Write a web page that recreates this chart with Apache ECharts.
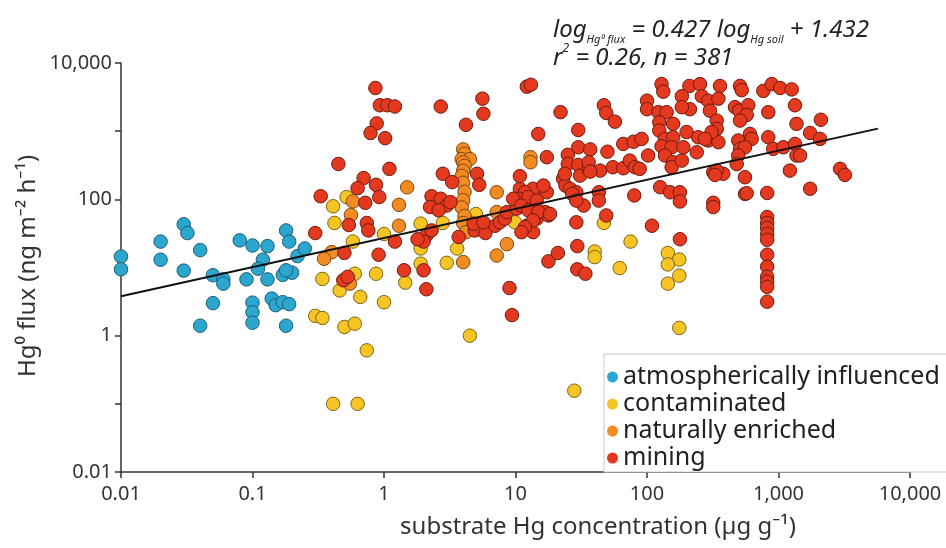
<!DOCTYPE html>
<html><head><meta charset="utf-8">
<script src="https://cdn.jsdelivr.net/npm/echarts@6/dist/echarts.min.js"></script>
<style>html,body{margin:0;padding:0;background:#fff}#c{width:946px;height:548px}</style>
</head><body><div id="c"></div>
<script>
const FONT = "'Noto Sans', 'Open Sans', sans-serif";
const seriesNames = ['atmospherically influenced', 'contaminated', 'naturally enriched', 'mining'];
const xTickLabels = ['0.01', '0.1', '1', '10', '100', '1,000', '10,000'];
const yTickLabels = ['0.01', '', '1', '', '100', '', '10,000'];
const trendX = [0.01, 5700];
const trendY = [3.78, 1090];

const atmospheric = [[0.01,14.5],[0.01,9.4],[0.02,24],[0.02,13],[0.03,43],[0.032,32],[0.04,18],[0.03,9],[0.05,7.7],[0.06,6.7],[0.06,5.8],[0.05,3.0],[0.04,1.4],[0.08,25],[0.1,21],[0.13,20.6],[0.12,13],[0.11,9.6],[0.09,6.7],[0.13,6.7],[0.1,3.05],[0.1,2.2],[0.1,1.55],[0.14,3.5],[0.15,2.8],[0.17,3.1],[0.19,2.9],[0.18,1.4],[0.18,35],[0.19,24],[0.17,7.8],[0.2,8.4],[0.22,14.7],[0.25,19],[0.18,9.1]];

const contaminated = [[0.41,79],[0.42,45],[0.52,108],[0.58,24],[0.34,6.8],[0.6,8.1],[0.46,4.6],[0.66,3.7],[0.87,8.1],[1.0,3.1],[1.0,31],[0.3,1.95],[0.34,1.82],[0.5,1.34],[0.6,1.5],[0.74,0.61],[1.45,6.0],[1.9,44],[1.9,19],[1.9,11.4],[2.8,45],[3.0,11.7],[3.6,19],[4.5,1.0],[5.0,61],[9.9,46],[0.41,0.1],[0.63,0.1],[28,0.156],[47,45],[40,17.2],[40,14.2],[75,24],[62,9.8],[144,16.3],[176,13.1],[144,11.1],[176,7.6],[144,5.8],[176,1.3]];

const naturallyEnriched = [[4.0,540],[4.1,465],[3.9,390],[4.5,390],[4.0,350],[4.1,310],[4.0,262],[3.9,221],[4.0,175],[4.1,129],[4.0,97],[3.9,76],[4.1,57],[4.0,45],[4.2,33],[4.0,12],[13,415],[13,350],[1.5,150],[1.3,83],[1.3,41],[0.58,93],[0.56,59],[0.4,16.8],[0.35,13.4],[0.55,5.8],[7.2,127],[8.6,22],[7.2,15],[7.2,65]];

const mining = [[0.86,4300],[0.93,2400],[1.06,2400],[1.21,2300],[0.88,1300],[0.79,940],[1.02,790],[0.45,330],[1.1,280],[0.7,205],[0.87,163],[0.63,146],[0.33,111],[0.92,108],[0.72,89],[0.54,42],[0.74,45],[0.76,35],[0.3,32],[0.5,16.4],[0.91,15.4],[1.21,24],[0.49,6.5],[0.53,7.3],[1.42,9.1],[2.0,9.1],[2.1,4.8],[9.0,5.0],[9.4,2.0],[2.7,2300],[5.6,3000],[5.7,1800],[4.2,1240],[12.2,4500],[13.1,4800],[14.9,910],[17.3,415],[2.8,237],[3.3,179],[5.1,237],[5.3,163],[2.3,111],[2.7,102],[3.0,81],[2.24,77],[2.6,69],[3.2,91],[2.1,29.5],[2.3,35],[2.0,24],[1.8,26],[4.9,35],[5.9,32],[7.0,41],[7.6,46],[4.8,44],[5.7,46],[8.3,52],[3.7,28],[8.6,65],[10.2,73],[11.5,86],[12.9,102],[14.9,127],[17.3,127],[10.8,143],[13.6,143],[16.3,159],[12.2,41],[14.5,52],[13.6,33],[16.8,65],[17.8,58],[17.8,12.3],
[10.8,219],[11.8,127],[10.8,102],[12.5,108],[14.5,96],[9.6,102],[11.1,81],[12.5,69],[14.9,65],[18.3,61],[13.6,49],[11.8,39],[11.1,33],[23,200],[24,159],[26,143],[29,127],
[22,1900],[47,2400],[49,1850],[57,1380],[30,1040],[25,450],[30,580],[37,540],[25,330],[50,500],[23.7,237],[30,320],[31,223],[36,280],[36,350],[44,264],[55,296],[66,286],[74,370],[81,296],[37,255],[66,650],[79,700],[91,770],[102,440],[27,120],[33,81],[29,96],[43,127],[43,96],[80,114],[29,46],[49,58],[29.5,20.6],[21,16.3],[29.5,9.4],[34,8.1],[109,41],[178,26],[126,151],[150,127],[178,127],[178,93],[319,89],[319,77],[319,250],[380,237],[556,120],
[129,4900],[133,3800],[210,4600],[253,4900],[359,4600],[510,4600],[525,4000],[766,3900],[888,4900],[1030,4300],[1260,4100],[100,2800],[100,2100],[122,1900],[141,1900],[184,3250],[212,2100],[261,3250],[292,2800],[349,3000],[301,2000],[184,2250],[467,2250],[503,2000],[589,2400],[573,1730],[510,1430],[836,1900],[1335,2400],[124,1350],[158,1280],[124,1020],[137,770],[158,815],[129,600],[154,580],[189,580],[137,440],[200,970],[245,815],[292,730],[349,690],[339,1430],[339,1080],[310,970],[158,350],[154,296],[184,370],[239,490],[339,264],[329,228],[494,730],[607,910],[625,770],[510,550],[556,580],[494,440],[481,330],[836,815],[912,550],[1090,580],[1335,650],[1370,440],[1220,264],[88,280],
[2100,1470],[1370,1280],[276,770],[1740,940],[2070,770],[1460,440],[556,211],[2940,280],[3200,228],[573,123],[1740,143],
[820,124],[820,55],[820,45],[820,38],[820,31],[820,25.5],[820,15.4],[820,10.3],[820,7.3],[820,6.2],[820,5.2],[820,3.15]];

const fills = ['#2ba6cf', '#f6c523', '#f28b22', '#e4381f'];
const borders = ['#1d5d76', '#7d6515', '#81460f', '#6e1c10'];
const groups = [atmospheric, contaminated, naturallyEnriched, mining];

const chart = echarts.init(document.getElementById('c'), null, {renderer: 'canvas'});
const scatterSeries = groups.map((g, i) => ({
  name: seriesNames[i],
  type: 'scatter',
  data: g,
  symbol: 'circle',
  symbolSize: 13.5,
  clip: false,
  itemStyle: {color: fills[i], borderColor: borders[i], borderWidth: 1, opacity: 1},
  emphasis: {disabled: true},
  z: 2 + i
}));

const axisCommon = {
  type: 'log', logBase: 10, min: 0.01, max: 10000,
  axisLine: {show: true, lineStyle: {color: '#333', width: 1.5}},
  axisTick: {show: true, inside: false, length: 6, lineStyle: {color: '#333', width: 1.5}},
  splitLine: {show: false},
  minorTick: {show: false}
};

chart.setOption({
  animation: false,
  backgroundColor: '#fff',
  grid: {left: 121, right: 36, top: 63, bottom: 76, containLabel: false},
  xAxis: Object.assign({}, axisCommon, {
    axisLabel: {fontFamily: FONT, fontSize: 20, color: '#333', margin: 12,
      formatter: (v, idx) => xTickLabels[idx] !== undefined ? xTickLabels[idx] : ''}
  }),
  yAxis: Object.assign({}, axisCommon, {
    axisLabel: {fontFamily: FONT, fontSize: 20, color: '#333', margin: 9,
      formatter: (v, idx) => yTickLabels[idx] !== undefined ? yTickLabels[idx] : ''}
  }),
  legend: {
    data: seriesNames,
    orient: 'vertical',
    left: 604, top: 354,
    padding: [10, 40, 1, 3],
    itemGap: 1,
    itemWidth: 11, itemHeight: 11,
    icon: 'circle',
    itemStyle: {borderWidth: 0},
    backgroundColor: '#fff',
    borderColor: '#c8c8c8', borderWidth: 1,
    textStyle: {fontFamily: FONT, fontSize: 25, color: '#222', lineHeight: 26},
    selectedMode: false
  },
  graphic: [
    {type: 'text', x: 28, y: 266, rotation: Math.PI / 2,
      style: {text: 'Hg\u2070 flux (ng m\u207B\u00B2 h\u207B\u00B9)', font: '24px ' + FONT, fill: '#333', align: 'center', verticalAlign: 'middle'}},
    {type: 'text', x: 598, y: 527,
      style: {text: 'substrate Hg concentration (\u00B5g g\u207B\u00B9)', font: '24px ' + FONT, fill: '#333', align: 'center', verticalAlign: 'middle'}},
    {type: 'text', x: 553, y: 30,
      style: {
        text: '{m|log}{s|Hg\u2070 flux}{m| = 0.427 log}{s|Hg soil}{m| + 1.432}',
        align: 'left', verticalAlign: 'middle',
        rich: {
          m: {fontFamily: FONT, fontStyle: 'italic', fontSize: 24, fill: '#222', color: '#222', lineHeight: 30},
          s: {fontFamily: FONT, fontStyle: 'italic', fontSize: 11, fill: '#222', color: '#222', lineHeight: 30, verticalAlign: 'bottom'}
        }
      }},
    {type: 'text', x: 553, y: 58,
      style: {
        text: '{m|r}{p|2}{m| = 0.26, n = 381}',
        align: 'left', verticalAlign: 'middle',
        rich: {
          m: {fontFamily: FONT, fontStyle: 'italic', fontSize: 24, fill: '#222', color: '#222', lineHeight: 30},
          p: {fontFamily: FONT, fontStyle: 'italic', fontSize: 12, fill: '#222', color: '#222', lineHeight: 30, verticalAlign: 'top'}
        }
      }}
  ],
  series: scatterSeries.concat([{
    name: 'trend', type: 'line',
    data: trendX.map((x, i) => [x, trendY[i]]),
    symbol: 'none', showSymbol: false,
    lineStyle: {color: '#111', width: 2},
    z: 10, silent: true, clip: false
  }])
});
</script>
</body></html>
